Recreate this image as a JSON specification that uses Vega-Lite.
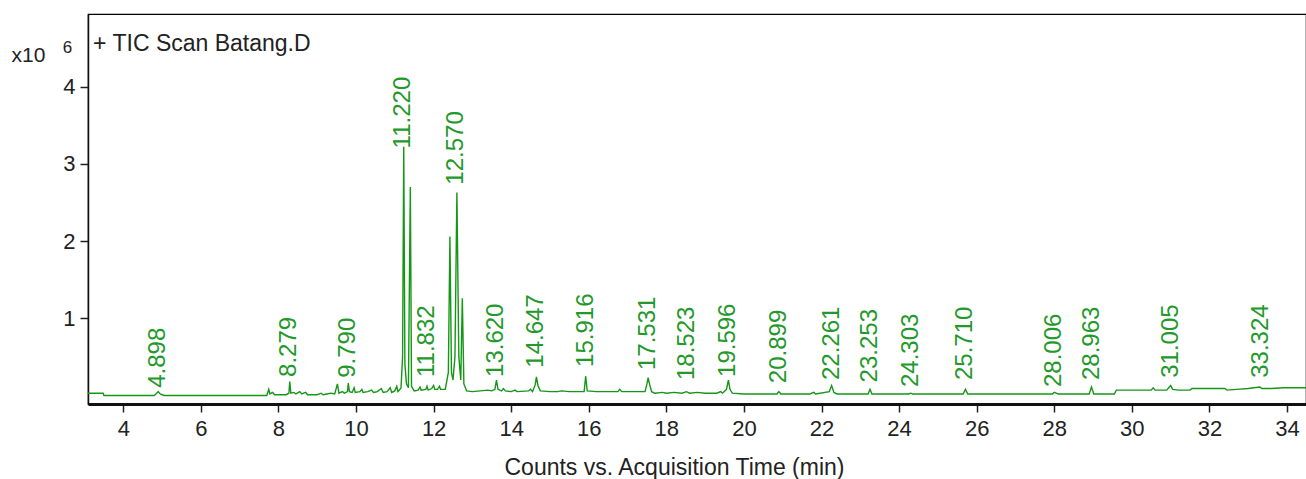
{
  "$schema": "https://vega.github.io/schema/vega-lite/v6.json",
  "width": 1218,
  "height": 390,
  "autosize": {"type": "none"},
  "padding": {"left": 88, "top": 14, "right": 0, "bottom": 75},
  "background": "white",
  "config": {
    "font": "Liberation Sans",
    "view": {"stroke": "black", "strokeWidth": 1.2},
    "axis": {"grid": false, "labelColor": "#222222", "titleColor": "#222222", "tickColor": "#222222", "domainColor": "#111111"}
  },
  "datasets": {
    "trace": [
      {"t": 3.09, "v": 0.03}, {"t": 3.48, "v": 0.03}, {"t": 3.5, "v": 0.0}, {"t": 4.8, "v": 0.0},
      {"t": 4.86, "v": 0.03}, {"t": 4.9, "v": 0.05}, {"t": 4.95, "v": 0.02}, {"t": 5.05, "v": 0.0},
      {"t": 7.7, "v": 0.0}, {"t": 7.75, "v": 0.08}, {"t": 7.78, "v": 0.02}, {"t": 7.85, "v": 0.04},
      {"t": 7.9, "v": 0.01}, {"t": 8.2, "v": 0.01}, {"t": 8.27, "v": 0.03}, {"t": 8.29, "v": 0.18},
      {"t": 8.32, "v": 0.03}, {"t": 8.4, "v": 0.04}, {"t": 8.45, "v": 0.02}, {"t": 8.55, "v": 0.05},
      {"t": 8.6, "v": 0.02}, {"t": 8.7, "v": 0.04}, {"t": 8.75, "v": 0.01}, {"t": 9.0, "v": 0.01},
      {"t": 9.1, "v": 0.03}, {"t": 9.15, "v": 0.01}, {"t": 9.25, "v": 0.02}, {"t": 9.35, "v": 0.03},
      {"t": 9.45, "v": 0.02}, {"t": 9.52, "v": 0.15}, {"t": 9.56, "v": 0.03}, {"t": 9.65, "v": 0.05},
      {"t": 9.7, "v": 0.03}, {"t": 9.78, "v": 0.05}, {"t": 9.8, "v": 0.16}, {"t": 9.83, "v": 0.05},
      {"t": 9.9, "v": 0.04}, {"t": 9.95, "v": 0.1}, {"t": 9.98, "v": 0.04}, {"t": 10.1, "v": 0.05},
      {"t": 10.15, "v": 0.08}, {"t": 10.18, "v": 0.04}, {"t": 10.3, "v": 0.05}, {"t": 10.4, "v": 0.07},
      {"t": 10.45, "v": 0.04}, {"t": 10.55, "v": 0.05}, {"t": 10.65, "v": 0.09}, {"t": 10.7, "v": 0.04},
      {"t": 10.8, "v": 0.05}, {"t": 10.88, "v": 0.1}, {"t": 10.92, "v": 0.04}, {"t": 11.0, "v": 0.06},
      {"t": 11.05, "v": 0.12}, {"t": 11.08, "v": 0.05}, {"t": 11.12, "v": 0.07}, {"t": 11.16, "v": 0.1},
      {"t": 11.2, "v": 0.5}, {"t": 11.23, "v": 3.22}, {"t": 11.26, "v": 0.4}, {"t": 11.3, "v": 0.15},
      {"t": 11.35, "v": 0.1}, {"t": 11.4, "v": 2.7}, {"t": 11.43, "v": 0.12}, {"t": 11.5, "v": 0.06},
      {"t": 11.6, "v": 0.07}, {"t": 11.65, "v": 0.11}, {"t": 11.68, "v": 0.07}, {"t": 11.8, "v": 0.08},
      {"t": 11.83, "v": 0.12}, {"t": 11.86, "v": 0.07}, {"t": 11.95, "v": 0.09}, {"t": 12.0, "v": 0.13},
      {"t": 12.03, "v": 0.08}, {"t": 12.1, "v": 0.08}, {"t": 12.15, "v": 0.12}, {"t": 12.18, "v": 0.08},
      {"t": 12.3, "v": 0.08}, {"t": 12.38, "v": 0.3}, {"t": 12.42, "v": 2.06}, {"t": 12.46, "v": 0.3},
      {"t": 12.5, "v": 0.2}, {"t": 12.55, "v": 0.5}, {"t": 12.6, "v": 2.63}, {"t": 12.65, "v": 0.5},
      {"t": 12.7, "v": 0.2}, {"t": 12.74, "v": 1.26}, {"t": 12.78, "v": 0.15}, {"t": 12.85, "v": 0.06},
      {"t": 13.0, "v": 0.05}, {"t": 13.2, "v": 0.06}, {"t": 13.4, "v": 0.07}, {"t": 13.5, "v": 0.06},
      {"t": 13.58, "v": 0.08}, {"t": 13.62, "v": 0.2}, {"t": 13.66, "v": 0.08}, {"t": 13.75, "v": 0.06},
      {"t": 13.8, "v": 0.09}, {"t": 13.85, "v": 0.06}, {"t": 14.0, "v": 0.05}, {"t": 14.1, "v": 0.07},
      {"t": 14.15, "v": 0.05}, {"t": 14.45, "v": 0.06}, {"t": 14.5, "v": 0.08}, {"t": 14.55, "v": 0.05},
      {"t": 14.62, "v": 0.14}, {"t": 14.65, "v": 0.24}, {"t": 14.69, "v": 0.13}, {"t": 14.75, "v": 0.06},
      {"t": 15.0, "v": 0.05}, {"t": 15.2, "v": 0.05}, {"t": 15.3, "v": 0.06}, {"t": 15.5, "v": 0.05},
      {"t": 15.88, "v": 0.05}, {"t": 15.92, "v": 0.25}, {"t": 15.96, "v": 0.06}, {"t": 16.2, "v": 0.05},
      {"t": 16.75, "v": 0.05}, {"t": 16.8, "v": 0.08}, {"t": 16.85, "v": 0.05}, {"t": 17.45, "v": 0.05},
      {"t": 17.5, "v": 0.15}, {"t": 17.53, "v": 0.23}, {"t": 17.57, "v": 0.14}, {"t": 17.62, "v": 0.05},
      {"t": 17.7, "v": 0.03}, {"t": 17.9, "v": 0.04}, {"t": 18.0, "v": 0.03}, {"t": 18.2, "v": 0.04},
      {"t": 18.4, "v": 0.03}, {"t": 18.52, "v": 0.05}, {"t": 18.6, "v": 0.03}, {"t": 18.8, "v": 0.04},
      {"t": 19.0, "v": 0.03}, {"t": 19.3, "v": 0.03}, {"t": 19.4, "v": 0.05}, {"t": 19.45, "v": 0.03},
      {"t": 19.55, "v": 0.08}, {"t": 19.6, "v": 0.2}, {"t": 19.64, "v": 0.08}, {"t": 19.7, "v": 0.03},
      {"t": 20.0, "v": 0.02}, {"t": 20.85, "v": 0.02}, {"t": 20.9, "v": 0.05}, {"t": 20.95, "v": 0.02},
      {"t": 21.7, "v": 0.02}, {"t": 21.8, "v": 0.04}, {"t": 21.85, "v": 0.02}, {"t": 22.2, "v": 0.05},
      {"t": 22.26, "v": 0.13}, {"t": 22.32, "v": 0.04}, {"t": 22.4, "v": 0.02}, {"t": 23.2, "v": 0.02},
      {"t": 23.25, "v": 0.08}, {"t": 23.3, "v": 0.02}, {"t": 24.25, "v": 0.02}, {"t": 24.3, "v": 0.03},
      {"t": 24.35, "v": 0.02}, {"t": 25.65, "v": 0.02}, {"t": 25.71, "v": 0.08}, {"t": 25.77, "v": 0.02},
      {"t": 27.95, "v": 0.02}, {"t": 28.0, "v": 0.04}, {"t": 28.05, "v": 0.03}, {"t": 28.1, "v": 0.02},
      {"t": 28.9, "v": 0.02}, {"t": 28.96, "v": 0.11}, {"t": 29.02, "v": 0.02}, {"t": 29.55, "v": 0.02},
      {"t": 29.6, "v": 0.07}, {"t": 30.5, "v": 0.07}, {"t": 30.55, "v": 0.1}, {"t": 30.6, "v": 0.07},
      {"t": 30.9, "v": 0.07}, {"t": 30.95, "v": 0.1}, {"t": 31.0, "v": 0.13}, {"t": 31.05, "v": 0.08},
      {"t": 31.2, "v": 0.07}, {"t": 31.5, "v": 0.07}, {"t": 31.55, "v": 0.09}, {"t": 31.9, "v": 0.09},
      {"t": 32.2, "v": 0.09}, {"t": 32.4, "v": 0.09}, {"t": 32.45, "v": 0.07}, {"t": 32.7, "v": 0.08},
      {"t": 33.0, "v": 0.09}, {"t": 33.3, "v": 0.11}, {"t": 33.35, "v": 0.09}, {"t": 33.6, "v": 0.09},
      {"t": 33.9, "v": 0.1}, {"t": 34.2, "v": 0.1}, {"t": 34.49, "v": 0.1}
    ],
    "labels": [
      {"t": 4.898, "ly": 0.10, "label": "4.898"},
      {"t": 8.279, "ly": 0.24, "label": "8.279"},
      {"t": 9.79, "ly": 0.23, "label": "9.790"},
      {"t": 11.22, "ly": 3.2, "label": "11.220"},
      {"t": 11.832, "ly": 0.24, "label": "11.832"},
      {"t": 12.57, "ly": 2.73, "label": "12.570"},
      {"t": 13.62, "ly": 0.24, "label": "13.620"},
      {"t": 14.647, "ly": 0.36, "label": "14.647"},
      {"t": 15.916, "ly": 0.37, "label": "15.916"},
      {"t": 17.531, "ly": 0.33, "label": "17.531"},
      {"t": 18.523, "ly": 0.2, "label": "18.523"},
      {"t": 19.596, "ly": 0.24, "label": "19.596"},
      {"t": 20.899, "ly": 0.16, "label": "20.899"},
      {"t": 22.261, "ly": 0.2, "label": "22.261"},
      {"t": 23.253, "ly": 0.17, "label": "23.253"},
      {"t": 24.303, "ly": 0.11, "label": "24.303"},
      {"t": 25.71, "ly": 0.2, "label": "25.710"},
      {"t": 28.006, "ly": 0.11, "label": "28.006"},
      {"t": 28.963, "ly": 0.2, "label": "28.963"},
      {"t": 31.005, "ly": 0.23, "label": "31.005"},
      {"t": 33.324, "ly": 0.23, "label": "33.324"}
    ],
    "notes": [
      {"t": 3.22, "v": 4.55, "txt": "+ TIC Scan Batang.D"}
    ],
    "exponent": [
      {"t": 2.56, "v": 4.44, "txt": "6"}
    ]
  },
  "layer": [
    {
      "data": {"name": "trace"},
      "mark": {"type": "line", "color": "#169616", "strokeWidth": 1.4, "clip": true},
      "encoding": {
        "x": {
          "field": "t", "type": "quantitative",
          "scale": {"domain": [3.09, 34.49], "nice": false, "zero": false},
          "axis": {
            "values": [4, 6, 8, 10, 12, 14, 16, 18, 20, 22, 24, 26, 28, 30, 32, 34],
            "title": "Counts vs. Acquisition Time (min)",
            "labelFontSize": 22, "titleFontSize": 23, "titleFontWeight": "normal",
            "titleX": 586, "titleAlign": "center",
            "domainWidth": 3, "tickSize": 8, "tickWidth": 1.5, "labelPadding": 6, "titlePadding": 17,
            "labelFlush": false
          }
        },
        "y": {
          "field": "v", "type": "quantitative",
          "scale": {"domain": [-0.11, 4.94], "nice": false, "zero": false},
          "axis": {
            "values": [1, 2, 3, 4],
            "format": "d",
            "title": "x10",
            "titleAngle": 0, "titleAlign": "left", "titleBaseline": "alphabetic",
            "titleX": -77, "titleY": 47,
            "titleFontSize": 21, "titleFontWeight": "normal",
            "labelFontSize": 22, "domainWidth": 1.5, "tickSize": 8, "tickWidth": 1.5, "labelPadding": 5,
            "labelFlush": false
          }
        }
      }
    },
    {
      "data": {"name": "labels"},
      "mark": {"type": "text", "angle": 270, "align": "left", "baseline": "middle", "fontSize": 24, "color": "#22992a", "font": "Liberation Sans"},
      "encoding": {
        "x": {"field": "t", "type": "quantitative"},
        "y": {"field": "ly", "type": "quantitative"},
        "text": {"field": "label"}
      }
    },
    {
      "data": {"name": "notes"},
      "mark": {"type": "text", "align": "left", "baseline": "middle", "fontSize": 23, "color": "#222222", "font": "Liberation Sans"},
      "encoding": {
        "x": {"field": "t", "type": "quantitative"},
        "y": {"field": "v", "type": "quantitative"},
        "text": {"field": "txt"}
      }
    },
    {
      "data": {"name": "exponent"},
      "mark": {"type": "text", "align": "center", "baseline": "alphabetic", "fontSize": 17, "color": "#222222", "font": "Liberation Sans"},
      "encoding": {
        "x": {"field": "t", "type": "quantitative"},
        "y": {"field": "v", "type": "quantitative"},
        "text": {"field": "txt"}
      }
    }
  ]
}
